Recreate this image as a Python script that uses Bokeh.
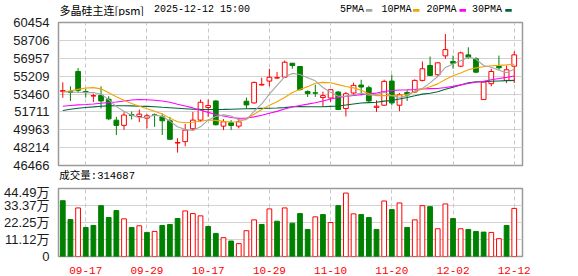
from bokeh.plotting import figure
from bokeh.layouts import column
from bokeh.models import (ColumnDataSource, Range1d, FixedTicker, Grid, Label, LinearAxis,
                          BoxAnnotation, PrintfTickFormatter, CustomJSTickFormatter)
from bokeh.embed import file_html
from bokeh.resources import INLINE

# ---------------- data ----------------
dates = ["09-12", "09-15", "09-16", "09-17", "09-18", "09-19", "09-22", "09-23", "09-24", "09-25",
         "09-26", "09-29", "09-30",
         "10-09", "10-10", "10-13", "10-14", "10-15", "10-16", "10-17", "10-20", "10-21", "10-22",
         "10-23", "10-24", "10-27", "10-28", "10-29", "10-30", "10-31",
         "11-03", "11-04", "11-05", "11-06", "11-07", "11-10", "11-11", "11-12", "11-13", "11-14",
         "11-17", "11-18", "11-19", "11-20", "11-21", "11-24", "11-25", "11-26", "11-27", "11-28",
         "12-01", "12-02", "12-03", "12-04", "12-05", "12-08", "12-09", "12-10", "12-11", "12-12"]

opens = [53720, 53700, 55665, 53700, 53260, 53330, 52950, 50900, 50390, 51440,
         51265, 51100, 51420, 51225, 50840, 48660, 48800, 50060, 50905, 52140,
         52780, 50320, 50640, 50320, 52750, 52586, 54340, 54723, 55020, 55111,
         56470, 56150, 53700, 53580, 53110, 53070, 53654, 52040, 53557, 54335,
         54078, 52150, 52362, 54723, 52362, 53600, 53654, 54791, 56248, 55344,
         57190, 56636, 56180, 57287, 56899, 52916, 54470, 56151, 54791, 56180]
highs = [54600, 54210, 55990, 53980, 53480, 54210, 53240, 51230, 51680, 51750,
         51945, 51490, 51555, 51555, 51225, 49130, 50520, 51710, 52920, 52920,
         52850, 51000, 50905, 51070, 53110, 54660, 55050, 55928, 55600, 56734,
         56470, 56200, 53820, 54370, 53690, 53950, 53750, 53650, 54570, 54856,
         54273, 52848, 54860, 55344, 53557, 53820, 54890, 56637, 57122, 56568,
         59327, 57219, 57608, 58026, 57054, 54626, 55927, 57219, 56248, 57637]
lows = [53090, 52780, 53560, 53110, 52680, 52040, 50900, 49440, 49960, 50970,
        50710, 50100, 50250, 49450, 48960, 47730, 48350, 49930, 50740, 51225,
        50390, 49930, 49930, 50100, 52040, 52520, 54300, 54208, 54960, 55053,
        55930, 53800, 53170, 53170, 52200, 52680, 51877, 51260, 53330, 53334,
        52683, 51711, 52300, 52362, 51780, 52780, 53557, 54694, 55208, 55247,
        56899, 55927, 56083, 56899, 55500, 52916, 54208, 55830, 54528, 54528]
closes = [53790, 53620, 53820, 53620, 53300, 52780, 51030, 50390, 51400, 51360,
          51490, 51330, 51370, 50840, 49030, 48720, 49930, 50905, 52650, 52330,
          50450, 50740, 50390, 50740, 52390, 54597, 54400, 55100, 55060, 56570,
          56250, 53887, 53500, 53540, 53300, 53880, 51945, 53490, 54305, 54143,
          52780, 52265, 54694, 52586, 53400, 53360, 54791, 55927, 55276, 56510,
          57802, 56471, 57482, 57054, 55597, 54626, 55665, 56024, 55830, 57287]
first_prev_close = 53900

volumes = [365100, 241900, 317800, 190000, 203000, 332700, 254900, 300300, 246400, 190000,
           201000, 157600, 164100, 203000, 209500, 248400, 298300, 280800, 265900, 196500,
           151100, 123200, 101200, 84300, 168600, 239900, 209500, 311300, 230900, 317800,
           218100, 280800, 177000, 259400, 274300, 222400, 332700, 415000, 278900, 274300,
           254900, 177000, 363200, 306700, 350200, 190000, 239900, 332700, 326200, 181600,
           343700, 248400, 181600, 177000, 164100, 159500, 157600, 116700, 203000, 314687]

ma5 = [53654, 53654, 53625, 53596, 53600, 53430, 52910, 52224, 51780, 51392,
       51134, 51194, 51390, 51278, 50812, 50258, 49978, 49885, 50247, 50907,
       51253, 51415, 51312, 50930, 50942, 51771, 52503, 53445, 54309, 55145,
       55476, 55373, 55053, 54749, 54095, 53621, 53233, 53231, 53384, 53553,
       53333, 53397, 53637, 53294, 53145, 53261, 53766, 54013, 54551, 55173,
       56061, 56397, 56708, 57064, 56881, 56246, 56085, 55793, 55548, 55886]
ma10 = [53654, 53771, 53916, 54043, 54082, 53965, 53577, 53188, 52848, 52540,
        52270, 52010, 51770, 51510, 51100, 50750, 50650, 50690, 50800, 50920,
        50880, 50780, 50720, 50750, 51030, 51480, 51940, 52370, 52700, 53110,
        53600, 53900, 54180, 54510, 54600, 54560, 54380, 54200, 54060, 53820,
        53480, 53300, 53320, 53300, 53360, 53410, 53680, 53950, 54160, 54450,
        54870, 55250, 55510, 55830, 56015, 56120, 56220, 56264, 56311, 56374]
ma20 = [52265, 52333, 52392, 52430, 52488, 52557, 52625, 52683, 52780, 52877,
        52916, 52896, 52848, 52780, 52654, 52459, 52294, 52100, 51877, 51660,
        51450, 51300, 51166, 51094, 51105, 51223, 51380, 51580, 51760, 51987,
        52193, 52340, 52466, 52606, 52776, 52963, 53115, 53230, 53311, 53392,
        53475, 53550, 53700, 53800, 53850, 53860, 53900, 53950, 53990, 54000,
        54090, 54203, 54351, 54488, 54608, 54695, 54851, 54978, 55084, 55226]
ma30 = [51847, 51974, 52071, 52139, 52197, 52265, 52294, 52314, 52314, 52294,
        52265, 52246, 52217, 52168, 52120, 52071, 52022, 51974, 51954, 51945,
        51945, 51954, 51974, 51993, 52013, 52032, 52051, 52071, 52090, 52125,
        52220, 52229, 52218, 52216, 52216, 52252, 52283, 52386, 52483, 52576,
        52619, 52650, 52761, 52819, 52965, 53119, 53281, 53449, 53536, 53676,
        53921, 54112, 54348, 54559, 54665, 54666, 54709, 54739, 54765, 54789]

price_ticks = [46466, 48214, 49963, 51711, 53460, 55209, 56957, 58706, 60454]
vol_ticks = [0, 111225, 222450, 333675, 444900]
vol_tick_labels = ["0", "11.12万", "22.25万", "33.37万", "44.49万"]
date_tick_labels = ["09-17", "09-29", "10-17", "10-29", "11-10", "11-20", "12-02", "12-12"]

title_name = "多晶硅主连[psm]"
title_time = "2025-12-12 15:00"
vol_title = "成交量"
ma_names = ["5PMA", "10PMA", "20PMA", "30PMA"]

# ---------------- styles ----------------
W = 578
BL, BR = 56, 56            # left / right borders (frame spans 56..522)
RED = "#ff0000"
GREEN = "#008000"
MA_COLORS = ["#a6a6a6", "#f5a300", "#ff00ff", "#00663a"]
GRID_H = "#d2d2d2"
GRID_V = "#c8c8c8"
FRAME = "#9a9a9a"
LABEL_FONT = "Liberation Sans, Noto Sans CJK SC"
MONO = "Liberation Mono"
CJK = "Noto Sans CJK SC"

n = len(dates)
x = list(range(n))
up = [c >= o for o, c in zip(opens, closes)]
prev_close = [first_prev_close] + closes[:-1]
vol_up = [c > pc for c, pc in zip(closes, prev_close)]
date_tick_pos = [dates.index(d) for d in date_tick_labels]

src = ColumnDataSource(dict(
    x=x, high=highs, low=lows,
    top=[max(o, c) for o, c in zip(opens, closes)],
    bottom=[min(o, c) for o, c in zip(opens, closes)],
    color=[RED if u else GREEN for u in up],
    fill=["#ffffff" if u else GREEN for u in up],
))
vsrc = ColumnDataSource(dict(
    x=x, vol=volumes,
    color=[RED if u else GREEN for u in vol_up],
    fill=["#ffffff" if u else GREEN for u in vol_up],
))

xr = Range1d(-0.56, 60.08)


def label(fig, px, py, text, font, size, color="#000000"):
    fig.add_layout(Label(x=px, y=py, text=text, text_font=font, text_font_size=size,
                         text_baseline="middle", text_color=color))


def style_yaxis(ax):
    ax.major_tick_line_color = None
    ax.minor_tick_line_color = None
    ax.axis_line_color = None
    ax.major_label_text_font = LABEL_FONT
    ax.major_label_text_font_size = "13px"
    ax.major_label_text_color = "#1a1a1a"
    ax.major_label_standoff = 3


# ---------------- header: title + legend (data coords = page pixels) ----------------
h1 = figure(width=W, height=16, x_range=Range1d(BL, W - BR), y_range=Range1d(16, 0),
            output_backend="svg", toolbar_location=None,
            x_axis_location=None, y_axis_location=None,
            min_border_left=BL, min_border_right=BR, min_border_top=0, min_border_bottom=0,
            background_fill_color="white", border_fill_color="white")
h1.outline_line_color = None
h1.grid.visible = False
label(h1, 57, 9, title_name, CJK, "11px")
label(h1, 152, 9, title_time, MONO, "10px")
legend_text_x = [338.7, 380.3, 425.7, 471.3]
legend_sw_x = [364.7, 412.0, 458.7, 504.7]
for name, col, tx, sx in zip(ma_names, MA_COLORS, legend_text_x, legend_sw_x):
    label(h1, tx, 9, name, MONO, "10px")
    h1.add_layout(BoxAnnotation(left=sx, right=sx + 6.5, top=8.6, bottom=11.2,
                                fill_color=col, fill_alpha=1, line_color=None))

# ---------------- price panel ----------------
p = figure(width=W, height=168, x_range=xr, y_range=Range1d(price_ticks[0], price_ticks[-1]),
           output_backend="svg", toolbar_location=None, x_axis_location=None,
           min_border_left=BL, min_border_right=BR, min_border_top=6, min_border_bottom=19,
           background_fill_color="white", border_fill_color="white")
p.outline_line_color = FRAME
p.outline_line_width = 1.5
p.grid.visible = False
p.yaxis.ticker = FixedTicker(ticks=price_ticks)
p.yaxis.formatter = PrintfTickFormatter(format="%d")
style_yaxis(p.yaxis)

p.add_layout(Grid(dimension=1, ticker=FixedTicker(ticks=price_ticks), grid_line_color=GRID_H))
p.add_layout(Grid(dimension=0, ticker=FixedTicker(ticks=date_tick_pos), grid_line_color=GRID_V,
                  grid_line_dash="4 3"))

p.segment(x0="x", y0="high", x1="x", y1="low", line_color="color", line_width=1, source=src)
p.vbar(x="x", width=0.62, top="top", bottom="bottom", fill_color="fill",
       line_color="color", line_width=1, source=src)

for vals, col in zip([ma30, ma20, ma10, ma5], MA_COLORS[::-1]):
    p.line(x, vals, line_color=col, line_width=1.1)

# volume caption "成交量:314687", carried as the single label of an axis under the price frame
cap_axis = LinearAxis(ticker=FixedTicker(ticks=[4.49]),
                      formatter=CustomJSTickFormatter(code="return '%s:%d';" % (vol_title, volumes[-1])))
cap_axis.axis_line_color = None
cap_axis.major_tick_line_color = None
cap_axis.minor_tick_line_color = None
cap_axis.major_tick_out = 0
cap_axis.major_tick_in = 0
cap_axis.major_label_standoff = 4
cap_axis.major_label_text_font = "Liberation Mono, Noto Sans CJK SC"
cap_axis.major_label_text_font_size = "10.5px"
cap_axis.major_label_text_color = "#000000"
p.add_layout(cap_axis, "below")

# ---------------- volume panel ----------------
v = figure(width=W, height=92, x_range=xr, y_range=Range1d(vol_ticks[0], vol_ticks[-1]),
           output_backend="svg", toolbar_location=None,
           min_border_left=BL, min_border_right=BR, min_border_top=4, min_border_bottom=20,
           background_fill_color="white", border_fill_color="white")
v.outline_line_color = FRAME
v.outline_line_width = 1.5
v.grid.visible = False
v.yaxis.ticker = FixedTicker(ticks=vol_ticks)
v.yaxis.major_label_overrides = {t: s for t, s in zip(vol_ticks, vol_tick_labels)}
style_yaxis(v.yaxis)

v.xaxis.ticker = FixedTicker(ticks=date_tick_pos)
v.xaxis.major_label_overrides = {t: s for t, s in zip(date_tick_pos, date_tick_labels)}
v.xaxis.major_tick_line_color = None
v.xaxis.minor_tick_line_color = None
v.xaxis.axis_line_color = None
v.xaxis.major_label_text_font = MONO
v.xaxis.major_label_text_font_size = "11px"
v.xaxis.major_label_text_color = RED
v.xaxis.major_label_standoff = 4

v.add_layout(Grid(dimension=1, ticker=FixedTicker(ticks=vol_ticks), grid_line_color=GRID_H))
v.add_layout(Grid(dimension=0, ticker=FixedTicker(ticks=date_tick_pos), grid_line_color=GRID_V,
                  grid_line_dash="4 3"))

v.vbar(x="x", width=0.62, top="vol", bottom=0, fill_color="fill", line_color="color",
       line_width=1, source=vsrc)

layout = column(h1, p, v, spacing=0)
open("out.html", "w").write(file_html(layout, INLINE))
